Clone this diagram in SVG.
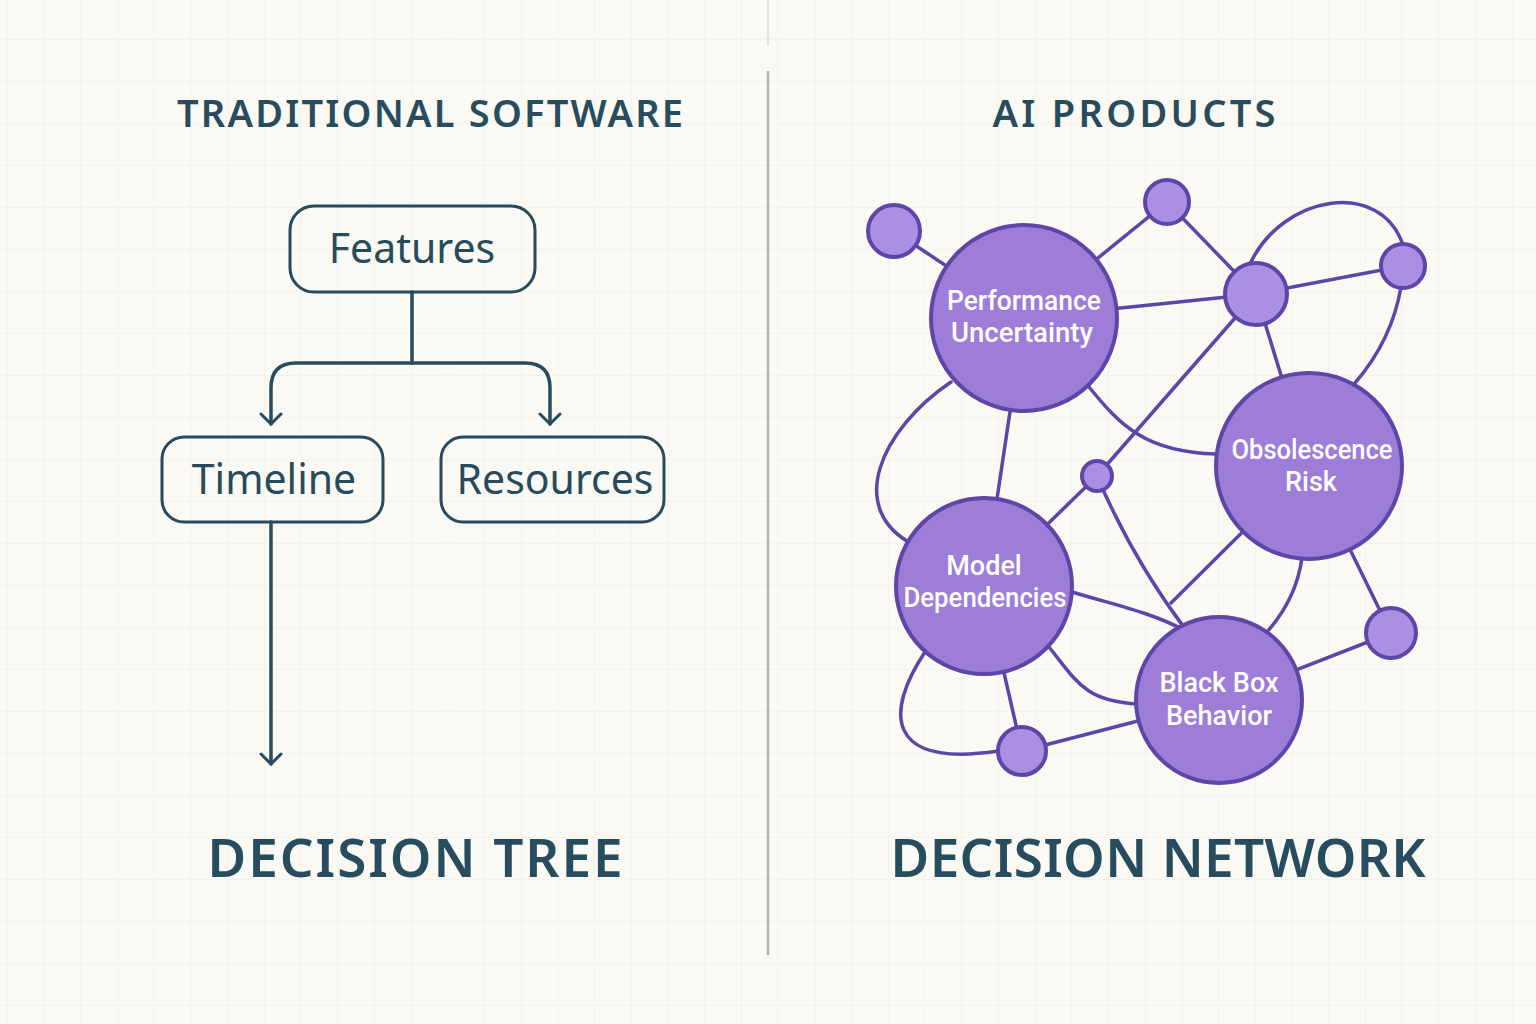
<svg xmlns="http://www.w3.org/2000/svg" width="1536" height="1024" viewBox="0 0 1536 1024">
<defs>
<pattern id="grid" width="36.7" height="42" patternUnits="userSpaceOnUse" x="8" y="-2">
<path d="M36.7,0 V42 M0,42 H36.7" fill="none" stroke="#eeece4" stroke-width="1"/>
</pattern>
<marker id="arr" viewBox="0 0 24 24" refX="12" refY="12" markerWidth="24" markerHeight="24" markerUnits="userSpaceOnUse" orient="auto">
<path d="M2,2 L12,12 L2,22" fill="none" stroke="#264b5c" stroke-width="3" stroke-linecap="round" stroke-linejoin="round"/>
</marker>
<style>
.title{font-family:"Noto Sans","DejaVu Sans",sans-serif;font-weight:600;fill:#274c5d;text-anchor:middle}
.box{fill:none;stroke:#264b5c;stroke-width:3}
.boxt{font-family:"Noto Sans","DejaVu Sans",sans-serif;font-size:41px;fill:#264b5c;text-anchor:middle}
.tl{fill:none;stroke:#264b5c;stroke-width:3.5;stroke-linecap:round}
.e{fill:none;stroke:#5d46a8;stroke-width:3.5;stroke-linecap:round}
.big{fill:#9d7dd8;stroke:#5d46a8;stroke-width:4}
.sm{fill:#ab8fe3;stroke:#5d46a8;stroke-width:4}
.nt{font-family:Roboto,"Liberation Sans",sans-serif;font-size:27px;font-weight:500;fill:#ffffff;text-anchor:middle}
</style>
</defs>
<rect width="1536" height="1024" fill="#faf9f4"/>
<rect width="1536" height="1024" fill="url(#grid)"/>
<line x1="768" y1="0" x2="768" y2="46" stroke="#dfe3e6" stroke-width="2"/>
<line x1="768" y1="71" x2="768" y2="955" stroke="#a9b4bc" stroke-width="2.5"/>

<text class="title" x="430" y="127" font-size="38" textLength="506" lengthAdjust="spacing">TRADITIONAL SOFTWARE</text>
<text class="title" x="1134" y="127" font-size="38" textLength="283" lengthAdjust="spacing">AI PRODUCTS</text>
<text class="title" x="415" y="877" font-size="53" textLength="415" lengthAdjust="spacing">DECISION TREE</text>
<text class="title" x="1158" y="877" font-size="53" textLength="535" lengthAdjust="spacing">DECISION NETWORK</text>

<g id="tree-connectors">
<path class="tl" d="M412,292 V363"/>
<path class="tl" d="M412,363 H296 Q271,363 271,388 V424" marker-end="url(#arr)"/>
<path class="tl" d="M412,363 H525 Q550,363 550,388 V424" marker-end="url(#arr)"/>
<path class="tl" d="M271,522 V764" marker-end="url(#arr)"/>
</g>
<g id="node-features">
<rect class="box" x="290" y="206" width="245" height="86" rx="24"/>
<text class="boxt" x="412" y="263">Features</text>
</g>
<g id="node-timeline">
<rect class="box" x="162" y="437" width="221" height="85" rx="22"/>
<text class="boxt" x="274" y="494">Timeline</text>
</g>
<g id="node-resources">
<rect class="box" x="441" y="437" width="223" height="85" rx="22"/>
<text class="boxt" x="555" y="494">Resources</text>
</g>

<g id="network-connectors">
<path class="e" d="M894,231 L1024,318"/>
<path class="e" d="M1024,318 L1167,202"/>
<path class="e" d="M1167,202 L1256,294"/>
<path class="e" d="M1024,318 L1256,294"/>
<path class="e" d="M1256,294 L1403,266"/>
<path class="e" d="M1250,264 C1282,195 1380,178 1403,245"/>
<path class="e" d="M1401,287 Q1392,340 1355,383"/>
<path class="e" d="M1256,294 L1309,466"/>
<path class="e" d="M1256,294 L1097,476"/>
<path class="e" d="M1089,387 C1120,425 1145,452 1216,454"/>
<path class="e" d="M1024,318 L984,586"/>
<path class="e" d="M951,382 C880,430 845,510 914,545"/>
<path class="e" d="M1097,476 L984,586"/>
<path class="e" d="M1097,476 Q1133,560 1186,630"/>
<path class="e" d="M1309,466 L1171,603"/>
<path class="e" d="M1302,558 Q1296,600 1266,633"/>
<path class="e" d="M1309,466 L1391,633"/>
<path class="e" d="M1391,633 L1219,700"/>
<path class="e" d="M1072,592 C1115,605 1150,612 1184,630"/>
<path class="e" d="M1049,647 C1077,682 1085,701 1138,704"/>
<path class="e" d="M984,586 L1022,751"/>
<path class="e" d="M1022,751 L1219,700"/>
<path class="e" d="M925,652 C885,712 885,768 998,751"/>
</g>

<g id="node-s1"><circle class="sm" cx="894" cy="231" r="26"/></g>
<g id="node-s2"><circle class="sm" cx="1167" cy="202" r="22"/></g>
<g id="node-s3"><circle class="sm" cx="1256" cy="294" r="31"/></g>
<g id="node-s4"><circle class="sm" cx="1403" cy="266" r="22"/></g>
<g id="node-s5"><circle class="sm" cx="1097" cy="476" r="15"/></g>
<g id="node-s6"><circle class="sm" cx="1391" cy="633" r="25"/></g>
<g id="node-s7"><circle class="sm" cx="1022" cy="751" r="24"/></g>

<g id="node-performance">
<circle class="big" cx="1024" cy="318" r="93"/>
<text class="nt" x="1024" y="310" textLength="154" lengthAdjust="spacingAndGlyphs">Performance</text>
<text class="nt" x="1022" y="342" textLength="142" lengthAdjust="spacingAndGlyphs">Uncertainty</text>
</g>
<g id="node-obsolescence">
<circle class="big" cx="1309" cy="466" r="93"/>
<text class="nt" x="1312" y="459" textLength="161" lengthAdjust="spacingAndGlyphs">Obsolescence</text>
<text class="nt" x="1311" y="491">Risk</text>
</g>
<g id="node-model">
<circle class="big" cx="984" cy="586" r="88"/>
<text class="nt" x="984" y="575">Model</text>
<text class="nt" x="985" y="607" textLength="163" lengthAdjust="spacingAndGlyphs">Dependencies</text>
</g>
<g id="node-blackbox">
<circle class="big" cx="1219" cy="700" r="83"/>
<text class="nt" x="1219" y="692">Black Box</text>
<text class="nt" x="1219" y="725">Behavior</text>
</g>
</svg>
